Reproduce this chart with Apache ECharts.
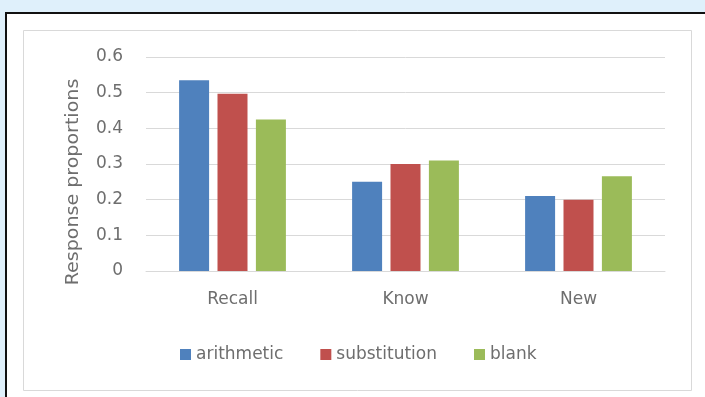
<!DOCTYPE html>
<html>
<head>
<meta charset="utf-8">
<script src="https://cdn.jsdelivr.net/npm/echarts@6/dist/echarts.min.js"></script>
<style>
html,body{margin:0;padding:0;background:#fff;}
#chart{width:705px;height:397px;}
</style>
</head>
<body>
<div id="chart"></div>
<script>
var categories = ['Recall', 'Know', 'New'];
var arithmetic = [0.535, 0.25, 0.21];
var substitution = [0.497, 0.30, 0.20];
var blank = [0.425, 0.31, 0.266];
var seriesNames = ['arithmetic', 'substitution', 'blank'];
var yTitle = 'Response proportions';

var FONT = 'DejaVu Sans';
var TXT = '#6e6e6e';

var chart = echarts.init(document.getElementById('chart'), null, {renderer: 'canvas'});
chart.setOption({
  animation: false,
  backgroundColor: '#ffffff',
  color: ['#4F81BD', '#C0504D', '#9BBB59'],
  graphic: [
    {type: 'rect', shape: {x: 0, y: 0, width: 705, height: 12}, style: {fill: '#dff0fb'}, z: -10, silent: true},
    {type: 'rect', shape: {x: 0, y: 0, width: 5, height: 397}, style: {fill: '#dff0fb'}, z: -10, silent: true},
    {type: 'rect', shape: {x: 5, y: 12, width: 700, height: 2}, style: {fill: '#111111'}, z: -9, silent: true},
    {type: 'rect', shape: {x: 5, y: 12, width: 2, height: 385}, style: {fill: '#111111'}, z: -9, silent: true},
    {type: 'rect', shape: {x: 23.5, y: 30.5, width: 668, height: 360}, style: {fill: 'none', stroke: '#d9d9d9', lineWidth: 1}, z: -8, silent: true},
    {type: 'text', x: 74, y: 182, rotation: Math.PI / 2, scaleX: 1.12,
      style: {text: yTitle, font: '17px "' + FONT + '"', fill: TXT, textAlign: 'center', textVerticalAlign: 'middle'}, silent: true}
  ],
  legend: {
    data: seriesNames,
    left: 175,
    top: 341,
    itemWidth: 11,
    itemHeight: 11,
    itemGap: 37,
    icon: 'rect',
    textStyle: {fontFamily: FONT, fontSize: 17, color: TXT}
  },
  grid: {left: 146, right: 40, top: 57, bottom: 126, containLabel: false},
  xAxis: {
    type: 'category',
    data: categories,
    axisLine: {lineStyle: {color: '#d9d9d9', width: 1}},
    axisTick: {show: false},
    axisLabel: {fontFamily: FONT, fontSize: 17, color: TXT, margin: 20}
  },
  yAxis: {
    type: 'value',
    min: 0,
    max: 0.6,
    interval: 0.1,
    axisLine: {show: false},
    axisTick: {show: false},
    splitLine: {lineStyle: {color: '#d9d9d9', width: 1}},
    axisLabel: {fontFamily: FONT, fontSize: 17, color: TXT, margin: 23}
  },
  series: [
    {name: seriesNames[0], type: 'bar', data: arithmetic, barWidth: 30, barGap: '28%'},
    {name: seriesNames[1], type: 'bar', data: substitution, barWidth: 30, barGap: '28%'},
    {name: seriesNames[2], type: 'bar', data: blank, barWidth: 30, barGap: '28%'}
  ]
});
</script>
</body>
</html>
